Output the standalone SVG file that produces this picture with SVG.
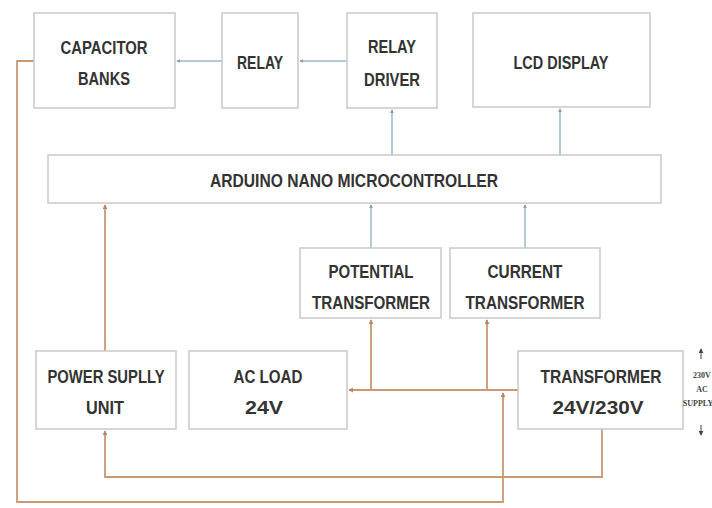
<svg xmlns="http://www.w3.org/2000/svg" width="712" height="508" viewBox="0 0 712 508">
<style>
.box{fill:#ffffff;stroke:#c9c9c9;stroke-width:1.5}
.t{font-family:"Liberation Sans",Arial,sans-serif;font-weight:bold;font-size:19px;fill:#333333;text-anchor:middle}
.s{font-family:"Liberation Serif","Times New Roman",serif;font-weight:bold;font-size:8px;fill:#444;text-anchor:middle}
.b{fill:none;stroke:#9ab7d0;stroke-width:1.5}
.o{fill:none;stroke:#c99a72;stroke-width:1.8}
</style>
<defs>
<marker id="ab" viewBox="0 0 6 6" refX="5" refY="3" markerWidth="4" markerHeight="4" orient="auto" markerUnits="userSpaceOnUse"><path d="M0,0L6,3L0,6z" fill="#7f9fbc"/></marker>
<marker id="ao" viewBox="0 0 6 6" refX="5" refY="3" markerWidth="5" markerHeight="5" orient="auto" markerUnits="userSpaceOnUse"><path d="M0,0L6,3L0,6z" fill="#b98560"/></marker>
<marker id="ak" viewBox="0 0 6 6" refX="5" refY="3" markerWidth="5" markerHeight="5" orient="auto" markerUnits="userSpaceOnUse"><path d="M0,0L6,3L0,6z" fill="#444"/></marker>
</defs>
<rect width="712" height="508" fill="#ffffff"/>
<g id="connectors">
<path class="b" d="M222,61H177" marker-end="url(#ab)"/>
<path class="b" d="M347,61H300" marker-end="url(#ab)"/>
<path class="b" d="M392,155V110" marker-end="url(#ab)"/>
<path class="b" d="M560,155V109" marker-end="url(#ab)"/>
<path class="b" d="M371,248V205" marker-end="url(#ab)"/>
<path class="b" d="M525,248V205" marker-end="url(#ab)"/>
<path class="o" d="M105,351V205" marker-end="url(#ao)"/>
<path class="o" d="M518,390H349" marker-end="url(#ao)"/>
<path class="o" d="M371,390V320" marker-end="url(#ao)"/>
<path class="o" d="M487,390V320" marker-end="url(#ao)"/>
<path class="o" d="M602,429V477H105V431" marker-end="url(#ao)"/>
<path class="o" d="M34,61H17V502H503V393" marker-end="url(#ao)"/>
</g>
<g id="capacitor-banks"><rect class="box" x="34" y="13" width="141" height="95"/><text class="t" x="104" y="54" textLength="87" lengthAdjust="spacingAndGlyphs">CAPACITOR</text><text class="t" x="104" y="85" textLength="52" lengthAdjust="spacingAndGlyphs">BANKS</text></g>
<g id="relay"><rect class="box" x="222" y="13" width="76" height="95"/><text class="t" x="260" y="69" textLength="46" lengthAdjust="spacingAndGlyphs">RELAY</text></g>
<g id="relay-driver"><rect class="box" x="347" y="13" width="90" height="95"/><text class="t" x="392" y="53" textLength="48" lengthAdjust="spacingAndGlyphs">RELAY</text><text class="t" x="392" y="86" textLength="56" lengthAdjust="spacingAndGlyphs">DRIVER</text></g>
<g id="lcd-display"><rect class="box" x="473" y="13" width="177" height="94"/><text class="t" x="561" y="69" textLength="95" lengthAdjust="spacingAndGlyphs">LCD DISPLAY</text></g>
<g id="arduino"><rect class="box" x="48" y="155" width="613" height="48"/><text class="t" x="354" y="187" textLength="288" lengthAdjust="spacingAndGlyphs">ARDUINO NANO MICROCONTROLLER</text></g>
<g id="potential-transformer"><rect class="box" x="300" y="248" width="141" height="70"/><text class="t" x="371" y="278" textLength="85" lengthAdjust="spacingAndGlyphs">POTENTIAL</text><text class="t" x="371" y="309" textLength="118" lengthAdjust="spacingAndGlyphs">TRANSFORMER</text></g>
<g id="current-transformer"><rect class="box" x="450" y="248" width="150" height="70"/><text class="t" x="525" y="278" textLength="75" lengthAdjust="spacingAndGlyphs">CURRENT</text><text class="t" x="525" y="309" textLength="119" lengthAdjust="spacingAndGlyphs">TRANSFORMER</text></g>
<g id="power-supply"><rect class="box" x="36" y="351" width="140" height="78"/><text class="t" x="106" y="383" textLength="117" lengthAdjust="spacingAndGlyphs">POWER SUPLLY</text><text class="t" x="105" y="414" textLength="38" lengthAdjust="spacingAndGlyphs">UNIT</text></g>
<g id="ac-load"><rect class="box" x="189" y="351" width="158" height="78"/><text class="t" x="268" y="383" textLength="69" lengthAdjust="spacingAndGlyphs">AC LOAD</text><text class="t" x="264" y="414" textLength="38" lengthAdjust="spacingAndGlyphs">24V</text></g>
<g id="transformer"><rect class="box" x="518" y="351" width="165" height="78"/><text class="t" x="601" y="383" textLength="121" lengthAdjust="spacingAndGlyphs">TRANSFORMER</text><text class="t" x="598" y="414" textLength="91" lengthAdjust="spacingAndGlyphs">24V/230V</text></g>
<g id="ac-supply-label">
<path d="M701,359V349" stroke="#444" stroke-width="1" marker-end="url(#ak)"/>
<path d="M701,425V435" stroke="#444" stroke-width="1" marker-end="url(#ak)"/>
<text class="s" x="702" y="378">230V</text>
<text class="s" x="702" y="392">AC</text>
<text class="s" x="698" y="406">SUPPLY</text>
</g>
</svg>
